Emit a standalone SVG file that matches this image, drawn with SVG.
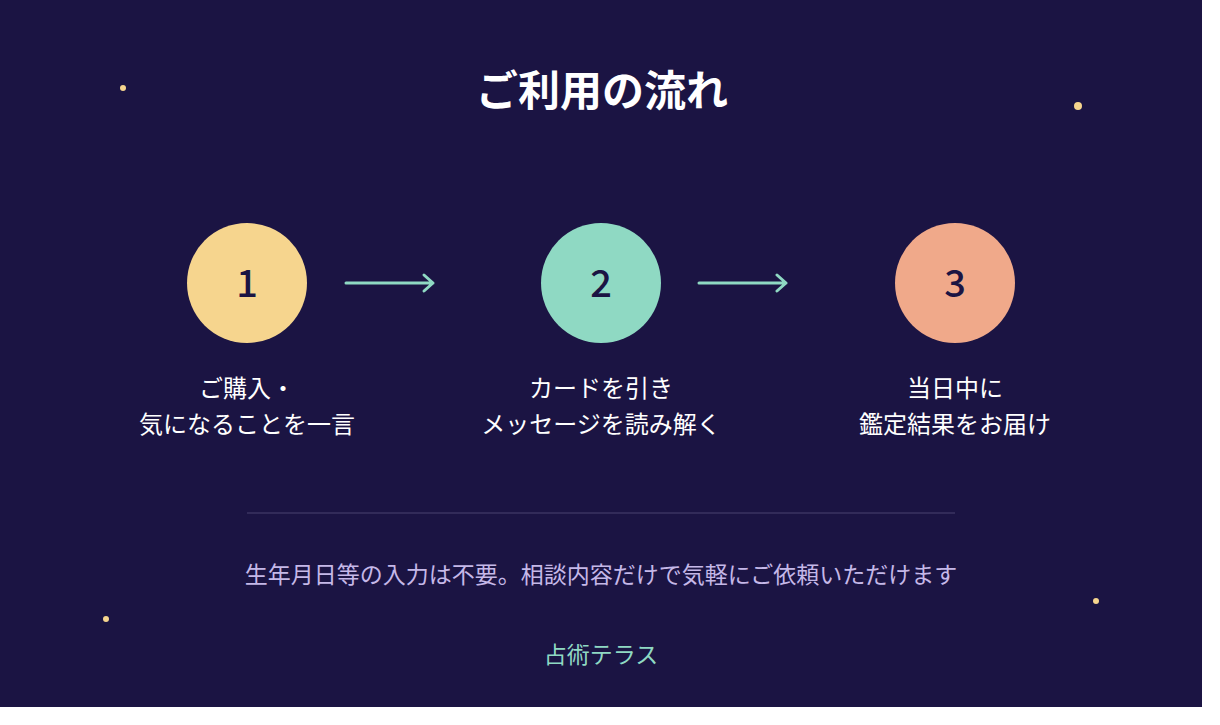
<svg xmlns="http://www.w3.org/2000/svg" width="1220" height="725" viewBox="0 0 1220 725">
<defs>
<style>
text{font-family:"Noto Sans CJK JP","Noto Sans",sans-serif;text-anchor:middle}
.lbl{fill:#ffffff;font-size:24px}
.num{fill:#1b1443;font-size:38px;font-weight:500}
.star{fill:#f6d58e}
.arr{stroke:#8fd9c3;stroke-width:3;fill:none;stroke-linecap:round;stroke-linejoin:round}
</style>
</defs>
<rect width="1220" height="725" fill="#ffffff"/>
<rect width="1202" height="707" fill="#1b1443"/>
<circle class="star" cx="123" cy="88" r="3"/>
<circle class="star" cx="1078" cy="106" r="4"/>
<circle class="star" cx="106" cy="619" r="3"/>
<circle class="star" cx="1096" cy="601" r="3"/>
<text x="602" y="106" fill="#ffffff" font-size="42" font-weight="bold">ご利用の流れ</text>
<g id="connectors">
<path class="arr" d="M346 283H433M424 275L433 283L424 291"/>
<path class="arr" d="M699 283H786M777 275L786 283L777 291"/>
</g>
<g id="step1"><circle cx="247" cy="283" r="60" fill="#f6d58e"/><text class="num" x="247" y="297">1</text>
<text class="lbl" x="247" y="397">ご購入・</text><text class="lbl" x="247" y="433">気になることを一言</text></g>
<g id="step2"><circle cx="601" cy="283" r="60" fill="#8fd9c3"/><text class="num" x="601" y="297">2</text>
<text class="lbl" x="601" y="397">カードを引き</text><text class="lbl" x="601" y="433">メッセージを読み解く</text></g>
<g id="step3"><circle cx="955" cy="283" r="60" fill="#f0a98a"/><text class="num" x="955" y="297">3</text>
<text class="lbl" x="955" y="397">当日中に</text><text class="lbl" x="955" y="433">鑑定結果をお届け</text></g>
<line x1="247" y1="513" x2="955" y2="513" stroke="#4a4270" stroke-width="1"/>
<text x="601" y="583" fill="#c5b8e8" font-size="23">生年月日等の入力は不要。相談内容だけで気軽にご依頼いただけます</text>
<text x="601" y="663" fill="#8fd9c3" font-size="23">占術テラス</text>
</svg>
